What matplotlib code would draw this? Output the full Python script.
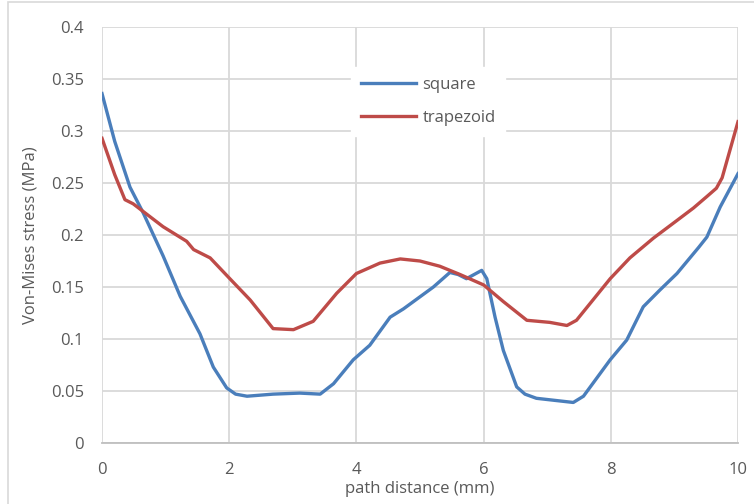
import matplotlib
matplotlib.use("Agg")
import matplotlib.pyplot as plt
from matplotlib.patches import Rectangle

# path distance (mm) and stress (MPa)
x_square = [0.0, 0.2, 0.44, 0.65, 0.96, 1.23, 1.54, 1.75, 1.96, 2.1, 2.28, 2.69, 3.11, 3.43,
            3.64, 3.95, 4.21, 4.53, 4.74, 5.21, 5.47, 5.6, 5.73, 5.85, 5.97, 6.05, 6.18,
            6.31, 6.52, 6.65, 6.83, 7.41, 7.57, 7.99, 8.25, 8.51, 8.77, 9.04, 9.38, 9.51,
            9.72, 10.0]
y_square = [0.336, 0.29, 0.246, 0.221, 0.180, 0.141, 0.105, 0.073, 0.053, 0.047, 0.045, 0.047,
            0.048, 0.047, 0.057, 0.080, 0.094, 0.121, 0.129, 0.150, 0.164, 0.162, 0.158,
            0.162, 0.166, 0.158, 0.121, 0.089, 0.054, 0.047, 0.043, 0.039, 0.045, 0.080,
            0.099, 0.131, 0.147, 0.163, 0.188, 0.198, 0.227, 0.259]

x_trap = [0.0, 0.2, 0.36, 0.49, 0.96, 1.33, 1.44, 1.70, 2.01, 2.33, 2.69, 3.01, 3.32, 3.69,
          4.0, 4.37, 4.69, 5.0, 5.31, 5.63, 6.0, 6.31, 6.68, 7.04, 7.31, 7.46, 7.99, 8.30,
          8.67, 9.04, 9.30, 9.51, 9.66, 9.75, 10.0]
y_trap = [0.293, 0.258, 0.234, 0.230, 0.208, 0.194, 0.186, 0.178, 0.158, 0.1375, 0.110, 0.109,
          0.117, 0.144, 0.163, 0.173, 0.177, 0.175, 0.170, 0.162, 0.152, 0.136, 0.118,
          0.116, 0.113, 0.118, 0.158, 0.178, 0.197, 0.214, 0.226, 0.237, 0.245, 0.255, 0.309]

xticks = [0, 2, 4, 6, 8, 10]
yticks = [0, 0.05, 0.1, 0.15, 0.2, 0.25, 0.3, 0.35, 0.4]
ytick_labels = ["0", "0.05", "0.1", "0.15", "0.2", "0.25", "0.3", "0.35", "0.4"]

txt = "#595959"
plt.rcParams["font.family"] = ["Open Sans", "DejaVu Sans"]

fig = plt.figure(figsize=(7.54, 5.04), dpi=100)
ax = fig.add_axes([0.1353, 0.121, 0.8435, 0.8254])

# light chart border like the Excel frame
fig.patches.append(Rectangle((8 / 754, -0.1), 1.1, 0.1 + 1 - 2 / 504, transform=fig.transFigure,
                             fill=False, edgecolor="#d9d9d9", linewidth=1.2))

ax.plot(x_square, y_square, color="#4a7ebb", lw=2.4, label="square", solid_joinstyle="round")
ax.plot(x_trap, y_trap, color="#be4b48", lw=2.4, label="trapezoid", solid_joinstyle="round")

ax.set_xlim(0, 10)
ax.set_ylim(0, 0.4)
ax.set_xticks(xticks)
ax.set_yticks(yticks)
ax.set_yticklabels(ytick_labels)
ax.grid(color="#d9d9d9", linewidth=1.3)
ax.set_axisbelow(True)
for s in ["top", "right", "left"]:
    ax.spines[s].set_visible(False)
ax.spines["bottom"].set_color("#bfbfbf")
ax.spines["bottom"].set_linewidth(1.3)
ax.tick_params(length=0, labelsize=12, colors=txt)
ax.tick_params(axis="x", pad=14)
ax.tick_params(axis="y", pad=13)

ax.set_xlabel("path distance (mm)", fontsize=12, color=txt, labelpad=2)
ax.set_ylabel("Von-Mises stress (MPa)", fontsize=12, color=txt, labelpad=9)

leg = ax.legend(loc="upper left", bbox_to_anchor=(0.391, 0.904), frameon=True, fontsize=12,
                handlelength=3.3, handletextpad=0.4, labelspacing=1.0, borderpad=0.6,
                borderaxespad=0, fancybox=False)
leg.get_frame().set_edgecolor("white")
leg.get_frame().set_facecolor("white")
leg.get_frame().set_alpha(1)
for t in leg.get_texts():
    t.set_color(txt)

fig.savefig("out.png", dpi=100)
